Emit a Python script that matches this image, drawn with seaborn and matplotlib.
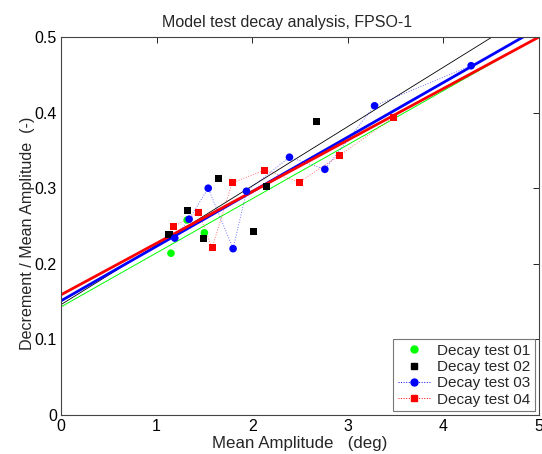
import numpy as np
import pandas as pd
import matplotlib
matplotlib.use("Agg")
import matplotlib.pyplot as plt
import seaborn as sns

sns.set_style("white")
plt.rcParams['font.family'] = ['Liberation Sans', 'DejaVu Sans']

# ---- data ----
t01_x = [1.15, 1.32, 1.50]
t01_y = [0.214, 0.258, 0.241]
t02_x = [1.13, 1.32, 1.49, 1.65, 2.01, 2.15, 2.67]
t02_y = [0.239, 0.270, 0.233, 0.313, 0.243, 0.302, 0.388]
t03_x = [1.19, 1.34, 1.54, 1.80, 1.94, 2.39, 2.76, 3.28, 4.29]
t03_y = [0.234, 0.259, 0.300, 0.220, 0.296, 0.341, 0.325, 0.409, 0.462]
t04_x = [1.18, 1.44, 1.58, 1.79, 2.13, 2.49, 2.91, 3.48]
t04_y = [0.249, 0.268, 0.221, 0.307, 0.324, 0.308, 0.343, 0.394]

# fitted lines: intercept, slope
fit_names = ["01", "02", "03", "04"]
fit_intercept = [0.143, 0.146, 0.151, 0.159]
fit_slope = [0.0715, 0.0785, 0.0722, 0.0682]
fit_colors = ["#00ff00", "#000000", "#0000ff", "#ff0000"]
fit_widths = [0.7, 0.6, 2.0, 2.0]

x_ticks = [0, 1, 2, 3, 4, 5]
y_ticks = [0, 0.1, 0.2, 0.3, 0.4, 0.5]

fig = plt.figure(figsize=(5.42, 4.54), dpi=100)
ax = fig.add_axes([61/542, 39/454, 478/542, 378/454])

# fit lines
xr = np.array([0.0, 5.0])
for b, m, c, w in zip(fit_intercept, fit_slope, fit_colors, fit_widths):
    sns.lineplot(x=xr, y=b + m * xr, color=c, linewidth=w, ax=ax, legend=False, zorder=2)

# dotted connections
sns.lineplot(x=t03_x, y=t03_y, color="#0000ff", linestyle=":", linewidth=0.7, alpha=0.55,
             ax=ax, sort=False, zorder=3)
sns.lineplot(x=t04_x, y=t04_y, color="#ff0000", linestyle=":", linewidth=0.7, alpha=0.55,
             ax=ax, sort=False, zorder=3)

# markers
sns.scatterplot(x=t01_x, y=t01_y, color="#00ff00", marker="o", s=30, edgecolor="none", ax=ax, zorder=4)
sns.scatterplot(x=t02_x, y=t02_y, color="#000000", marker="s", s=26, edgecolor="none", ax=ax, zorder=4)
sns.scatterplot(x=t03_x, y=t03_y, color="#0000ff", marker="o", s=30, edgecolor="none", ax=ax, zorder=4)
sns.scatterplot(x=t04_x, y=t04_y, color="#ff0000", marker="s", s=26, edgecolor="none", ax=ax, zorder=4)

ax.set_xlim(0, 5)
ax.set_ylim(0, 0.5)
ax.set_xticks(x_ticks)
ax.set_yticks(y_ticks)
ax.set_xticklabels([f"{v:g}" for v in x_ticks])
ax.set_yticklabels([f"{v:g}" for v in y_ticks])
ax.tick_params(direction="in", length=4, width=0.6, top=True, right=True,
               labelsize=11.5, colors="black", pad=3)
for s in ax.spines.values():
    s.set_color("#444444")
    s.set_linewidth(0.8)

ax.set_title("Model test decay analysis, FPSO-1", fontsize=11.5, pad=7, x=0.473)
ax.set_xlabel("Mean Amplitude   (deg)", fontsize=12.2, labelpad=1)
ax.set_ylabel("Decrement / Mean Amplitude  (-)", fontsize=11.6)
ax.yaxis.set_label_coords(-0.054, 0.481)

from matplotlib.lines import Line2D
handles = [
    Line2D([], [], color="#00ff00", marker="o", linestyle="none", markersize=5),
    Line2D([], [], color="#000000", marker="s", linestyle="none", markersize=4.5),
    Line2D([], [], color="#0000ff", marker="o", linestyle=":", linewidth=0.7, markersize=5),
    Line2D([], [], color="#ff0000", marker="s", linestyle=":", linewidth=0.7, markersize=4.5),
]
labels = ["Decay test 01", "Decay test 02", "Decay test 03", "Decay test 04"]
leg = ax.legend(handles, labels, loc="lower right", fontsize=11, frameon=True,
                fancybox=False, edgecolor="#777777", framealpha=1,
                borderpad=0.3, labelspacing=0.15, handlelength=2.2, handletextpad=0.4,
                borderaxespad=0.25)
leg.get_frame().set_linewidth(0.8)

fig.savefig("out.png", dpi=100)
